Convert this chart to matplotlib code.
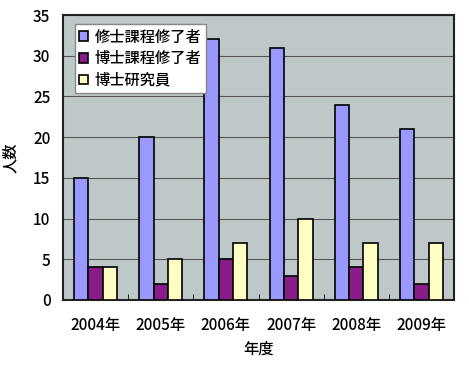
import numpy as np
import matplotlib.pyplot as plt

plt.rcParams['font.family'] = ['Noto Sans CJK JP', 'DejaVu Sans']

# data
years = ['2004年', '2005年', '2006年', '2007年', '2008年', '2009年']
series_names = ['修士課程修了者', '博士課程修了者', '博士研究員']
master = [15, 20, 32, 31, 24, 21]
doctor = [4, 2, 5, 3, 4, 2]
postdoc = [4, 5, 7, 10, 7, 7]
colors = ['#9999FF', '#881C88', '#FFFFC4']

fig = plt.figure(figsize=(4.69, 3.66), dpi=100)
ax = fig.add_axes([63/469, 1 - 300/366, 391/469, 285/366])
ax.set_facecolor('#BFC8C8')

x = np.arange(len(years))
w = 0.22
for i, (vals, name) in enumerate(zip([master, doctor, postdoc], series_names)):
    ax.bar(x + (i - 1) * w, vals, w, color=colors[i], edgecolor='black',
           linewidth=1.2, label=name, zorder=3)

ax.set_xlim(-0.5, len(years) - 0.5)
ax.set_ylim(0, 35)
ax.set_yticks(range(0, 36, 5))
ax.yaxis.grid(True, color='#555555', linewidth=0.8, zorder=0)
ax.set_axisbelow(True)
ax.tick_params(axis='y', length=0, labelsize=11, pad=9)

ax.set_xticks(x)
ax.set_xticklabels(years, fontsize=11, fontweight='medium')
ax.tick_params(axis='x', length=0, pad=12)
ax.set_xticks(np.arange(0.5, len(years) - 1, 1), minor=True)
ax.tick_params(axis='x', which='minor', direction='in', length=4, color='black')
for t in ax.get_yticklabels():
    t.set_fontweight('medium')

for s in ax.spines.values():
    s.set_linewidth(1.5)
    s.set_color('#222222')

ax.set_xlabel('年度', fontsize=11, fontweight='medium', labelpad=5)
ax.set_ylabel('人数', fontsize=11, fontweight='medium', labelpad=10)

leg = ax.legend(loc='upper left', bbox_to_anchor=(0.01, 0.995),
                prop={'size': 11, 'weight': 'medium'},
                frameon=True, fancybox=False, handlelength=0.6, handleheight=0.6,
                handletextpad=0.4, labelspacing=0.3, borderpad=0.3)
leg.get_frame().set_edgecolor('#888888')
leg.get_frame().set_facecolor('white')
leg.get_frame().set_alpha(1)

fig.savefig('out.png', dpi=100)
